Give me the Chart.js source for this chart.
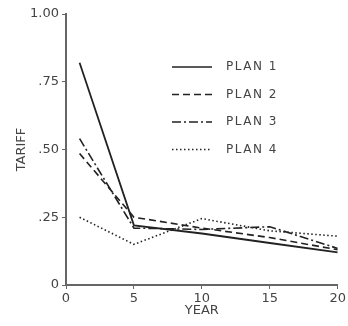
<!DOCTYPE html>
<html>
<head>
<meta charset="utf-8">
<script src="https://cdn.jsdelivr.net/npm/chart.js@4.4.1/dist/chart.umd.min.js"></script>
<style>
  html, body { margin: 0; padding: 0; background: #fff; }
  #wrap { width: 348px; height: 326px; }
</style>
</head>
<body>
<div id="wrap"><canvas id="tariff-chart" width="348" height="326"></canvas></div>
<script>
const years = [1, 5, 10, 15, 20];
const plan1 = [0.82, 0.22, 0.19, 0.155, 0.12];
const plan2 = [0.485, 0.25, 0.21, 0.175, 0.13];
const plan3 = [0.54, 0.21, 0.205, 0.215, 0.135];
const plan4 = [0.25, 0.15, 0.245, 0.20, 0.18];
const planNames = ['PLAN 1', 'PLAN 2', 'PLAN 3', 'PLAN 4'];
const xTicks = [0, 5, 10, 15, 20];
const yTicks = [0, 0.25, 0.5, 0.75, 1];
const yTickLabels = ['0', '.25', '.50', '.75', '1.00'];

const ink = '#222';
const textCol = '#444';
const dashes = [[], [7, 4], [9, 3, 2, 3], [1.5, 2.5]];

function toPoints(vals) {
    return vals.map((v, i) => ({ x: years[i], y: v }));
}

// legend sits inside the plot, drawn by hand so the dash styles show
const insideLegend = {
    id: 'insideLegend',
    afterDraw(chart) {
        const c = chart.ctx;
        c.save();
        c.font = '12px "DejaVu Sans", sans-serif';
        c.fillStyle = textCol;
        c.textBaseline = 'middle';
        c.letterSpacing = '1.5px';
        chart.data.datasets.forEach((ds, i) => {
            const y = 67 + i * 27.5;
            c.beginPath();
            c.strokeStyle = ink;
            c.lineWidth = 1.5;
            c.setLineDash(ds.borderDash);
            c.moveTo(172, y);
            c.lineTo(212, y);
            c.stroke();
            c.setLineDash([]);
            c.fillText(ds.label, 226, y);
        });
        c.restore();
    }
};

const axisFont = { family: '"DejaVu Sans", sans-serif', size: 13 };

new Chart(document.getElementById('tariff-chart'), {
    type: 'line',
    data: {
        datasets: [plan1, plan2, plan3, plan4].map((vals, i) => ({
            label: planNames[i],
            data: toPoints(vals),
            borderColor: ink,
            borderWidth: i === 0 ? 1.8 : 1.6,
            borderDash: dashes[i],
            pointRadius: 0,
            tension: 0,
            fill: false
        }))
    },
    options: {
        responsive: false,
        animation: false,
        layout: { padding: { left: 0, right: 10, top: 14, bottom: 4 } },
        plugins: {
            legend: { display: false },
            tooltip: { enabled: false }
        },
        scales: {
            x: {
                type: 'linear',
                min: 0,
                max: 20,
                afterBuildTicks: (s) => { s.ticks = xTicks.map(v => ({ value: v })); },
                afterFit: (s) => { s.height = 37; },
                ticks: { color: textCol, font: axisFont, padding: 2, maxRotation: 0 },
                grid: { drawOnChartArea: false, drawTicks: true, tickLength: 4, color: '#666' },
                border: { color: '#666', width: 2 },
                title: {
                    display: true,
                    text: 'YEAR',
                    color: textCol,
                    font: axisFont,
                    padding: { top: 0, bottom: 4 }
                }
            },
            y: {
                min: 0,
                max: 1,
                afterBuildTicks: (s) => { s.ticks = yTicks.map(v => ({ value: v })); },
                afterFit: (s) => { s.width = 66; },
                ticks: {
                    color: textCol,
                    font: axisFont,
                    padding: 3,
                    callback: (v) => yTickLabels[yTicks.indexOf(v)]
                },
                grid: { drawOnChartArea: false, drawTicks: true, tickLength: 4, color: '#666' },
                border: { color: '#666', width: 2 },
                title: {
                    display: true,
                    text: 'TARIFF',
                    color: textCol,
                    font: axisFont,
                    padding: { top: 14, bottom: 0 }
                }
            }
        }
    },
    plugins: [insideLegend]
});
</script>
</body>
</html>
